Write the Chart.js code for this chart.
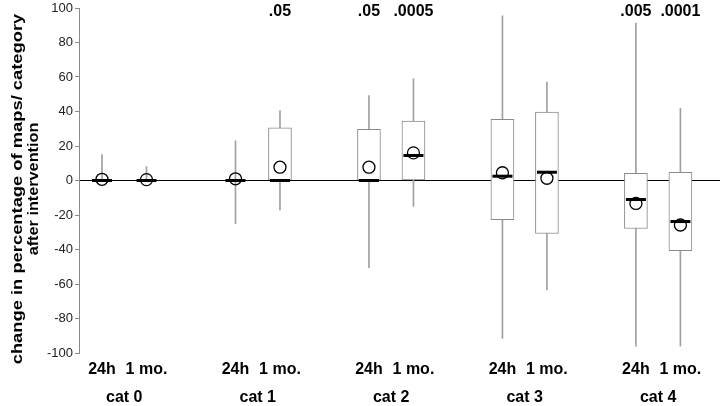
<!DOCTYPE html>
<html>
<head>
<meta charset="utf-8">
<script src="https://cdn.jsdelivr.net/npm/chart.js@4.4.0/dist/chart.umd.min.js"></script>
<style>
  html, body { margin: 0; padding: 0; background: #fff; }
  #wrap { width: 720px; height: 406px; }
</style>
</head>
<body>
<div id="wrap"><canvas id="grafico" width="720" height="406"></canvas></div>
<script>
// posições das caixas no eixo x (dois tempos por categoria)
const posicoes = [0, 1, 3, 4, 6, 7, 9, 10, 12, 13];
const tempos = ['24h', '1 mo.', '24h', '1 mo.', '24h', '1 mo.', '24h', '1 mo.', '24h', '1 mo.'];
const categorias = ['cat 0', 'cat 1', 'cat 2', 'cat 3', 'cat 4'];
const centrosCat = [0.5, 3.5, 6.5, 9.5, 12.5];

// valores
const minimo  = [0, 0, -25, -17, -50.5, -15, -91.5, -63.5, -96, -96];
const q1      = [0, 0, 0, 0, 0, 0, -22.7, -30.7, -27.8, -40.7];
const mediana = [0, 0, 0, 0, 0, 14.5, 2.5, 4.8, -11, -23.8];
const q3      = [0, 0, 0, 30.5, 29.7, 34.4, 35.5, 39.6, 4.2, 4.8];
const maximo  = [15, 8, 23, 40.5, 49.2, 59, 95.5, 57, 91.3, 41.9];
const media   = [0.7, 0.5, 1, 7.7, 7.7, 16, 4.5, 1.3, -13.3, -25.8];
const pValores = ['', '', '', '.05', '.05', '.0005', '', '', '.005', '.0001'];

const fonte = "'Liberation Sans', Arial, Helvetica, sans-serif";

// sem folgas automáticas nos eixos
const semFolga = s => {
  s.paddingLeft = 0; s.paddingRight = 0;
  s.paddingTop = 0; s.paddingBottom = 0;
};

// texto dos p-valores e título do eixo y
const textos = {
  id: 'textos',
  afterDraw(chart) {
    const c = chart.ctx;
    const x = chart.scales.x;
    c.save();
    c.fillStyle = '#000';
    c.font = 'bold 16px ' + fonte;
    c.textAlign = 'center';
    c.textBaseline = 'alphabetic';
    pValores.forEach((p, i) => {
      if (p) c.fillText(p, x.getPixelForValue(posicoes[i]), 16);
    });
    c.restore();

    const linhas = ['change in percentage of maps/ category', 'after intervention'];
    const xs = [18, 34];
    const esticar = [1.31, 1.16];
    linhas.forEach((t, i) => {
      c.save();
      c.translate(xs[i], 189);
      c.rotate(-Math.PI / 2);
      c.scale(esticar[i], 1);
      c.font = 'bold 14px ' + fonte;
      c.fillStyle = '#000';
      c.textAlign = 'center';
      c.textBaseline = 'middle';
      c.fillText(t, 0, 0);
      c.restore();
    });
  }
};

new Chart(document.getElementById('grafico'), {
  type: 'bar',
  data: {
    datasets: [
      {
        type: 'scatter',
        data: posicoes.map((p, i) => ({ x: p, y: mediana[i] })),
        pointStyle: 'line',
        pointRadius: 10,
        borderColor: '#000',
        borderWidth: 3,
        order: 1
      },
      {
        type: 'scatter',
        data: posicoes.map((p, i) => ({ x: p, y: media[i] })),
        pointStyle: 'circle',
        pointRadius: 6,
        borderColor: '#000',
        backgroundColor: 'rgba(0,0,0,0)',
        borderWidth: 1.3,
        order: 2
      },
      {
        data: posicoes.map((p, i) => ({ x: p, y: [q1[i], q3[i]] })),
        backgroundColor: '#fff',
        borderColor: '#8a8a8a',
        borderWidth: 1,
        borderSkipped: false,
        barThickness: 23,
        grouped: false,
        order: 3
      },
      {
        data: posicoes.map((p, i) => ({ x: p, y: [minimo[i], maximo[i]] })),
        backgroundColor: '#a0a0a0',
        borderWidth: 0,
        barThickness: 1,
        grouped: false,
        order: 4
      }
    ]
  },
  options: {
    responsive: false,
    animation: false,
    layout: { autoPadding: false, padding: { top: 8, right: 0, left: 0, bottom: 0 } },
    plugins: {
      legend: { display: false },
      tooltip: { enabled: false }
    },
    scales: {
      x: {
        type: 'linear',
        position: 'bottom',
        offset: false,
        min: -0.517,
        max: 13.89,
        grid: { display: false, drawTicks: false },
        border: { display: false },
        afterBuildTicks: s => { s.ticks = posicoes.map(v => ({ value: v })); },
        afterFit: s => { s.height = 27; semFolga(s); },
        ticks: {
          autoSkip: false,
          maxRotation: 0,
          padding: 7,
          color: '#000',
          font: { family: fonte, size: 16, weight: 'bold' },
          callback: (v, i) => tempos[i]
        }
      },
      x2: {
        type: 'linear',
        position: 'bottom',
        offset: false,
        min: -0.517,
        max: 13.89,
        grid: { display: false, drawTicks: false },
        border: { display: false },
        afterBuildTicks: s => { s.ticks = centrosCat.map(v => ({ value: v })); },
        afterFit: s => { s.height = 26; semFolga(s); },
        ticks: {
          autoSkip: false,
          maxRotation: 0,
          padding: 8,
          color: '#000',
          font: { family: fonte, size: 16, weight: 'bold' },
          callback: (v, i) => categorias[i]
        }
      },
      y: {
        min: -100,
        max: 100,
        afterFit: s => { s.width = 79; semFolga(s); },
        border: { display: true, color: '#8a8a8a', width: 1 },
        grid: {
          color: c => c.tick.value === 0 ? '#000' : 'rgba(0,0,0,0)',
          tickColor: '#8a8a8a',
          tickLength: 4,
          lineWidth: 1
        },
        ticks: {
          stepSize: 20,
          padding: 2,
          color: '#222',
          font: { family: fonte, size: 13 }
        }
      }
    }
  },
  plugins: [textos]
});
</script>
</body>
</html>
